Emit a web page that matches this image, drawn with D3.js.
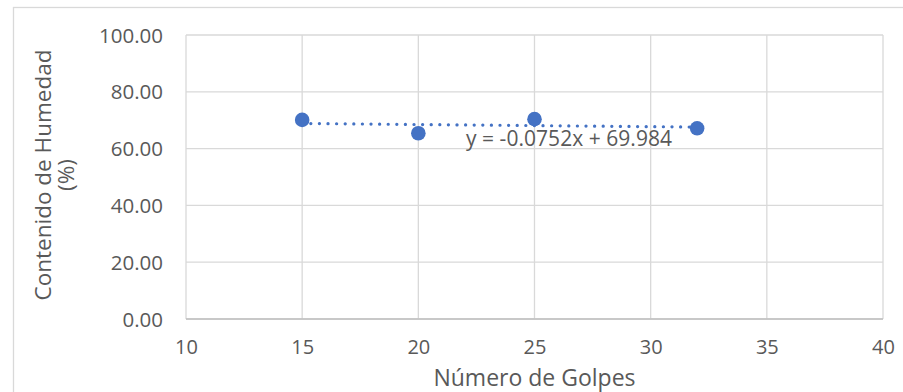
<!DOCTYPE html>
<html><head><meta charset="utf-8">
<script src="https://cdn.jsdelivr.net/npm/d3@7"></script>
<style>body{margin:0;background:#fff;} text{font-family:"Open Sans","Noto Sans",sans-serif;}</style>
</head><body>
<svg id="c" width="903" height="392"></svg>
<script>
const golpes = [15, 20, 25, 32];
const humedad = [70.10, 65.40, 70.37, 67.15];
const xTicks = [10, 15, 20, 25, 30, 35, 40];
const yTicks = [0, 20, 40, 60, 80, 100];
const slope = -0.0752, intercept = 69.984;
const eqLabel = "y = -0.0752x + 69.984";
const xTitle = "Número de Golpes";
const yTitle = ["Contenido de Humedad", "(%)"];

const svg = d3.select("#c");
const L = 186, R = 883, T = 35, B = 319;
const x = d3.scaleLinear().domain([10, 40]).range([L, R]);
const y = d3.scaleLinear().domain([0, 100]).range([B, T]);

svg.append("rect").attr("x", 13.5).attr("y", 7.5).attr("width", 920).attr("height", 420)
  .attr("fill", "#fff").attr("stroke", "#d9d9d9").attr("stroke-width", 1.3);

// grid
svg.append("g").selectAll("line").data(yTicks).join("line")
  .attr("x1", L).attr("x2", R).attr("y1", d => y(d)).attr("y2", d => y(d))
  .attr("stroke", "#d9d9d9").attr("stroke-width", 1.3);
svg.append("g").selectAll("line").data(xTicks).join("line")
  .attr("y1", T).attr("y2", B).attr("x1", d => x(d)).attr("x2", d => x(d))
  .attr("stroke", "#d9d9d9").attr("stroke-width", 1.3);
svg.append("line").attr("x1", L).attr("x2", R).attr("y1", B).attr("y2", B)
  .attr("stroke", "#bfbfbf").attr("stroke-width", 1.3);

const tf = '"Open Sans",sans-serif';
const xa = svg.append("g").attr("transform", `translate(0,${B})`)
  .call(d3.axisBottom(x).tickValues(xTicks).tickSize(0).tickPadding(21).tickFormat(d3.format("d")));
xa.select(".domain").remove();
xa.selectAll("text").attr("font-size", 20).attr("fill", "#595959").attr("dy", "0.71em").style("font-family", tf);
const ya = svg.append("g").attr("transform", `translate(${L},0)`)
  .call(d3.axisLeft(y).tickValues(yTicks).tickSize(0).tickPadding(23).tickFormat(d3.format(".2f")));
ya.select(".domain").remove();
ya.selectAll("text").attr("font-size", 20.5).attr("fill", "#595959").attr("dy", "0.35em").style("font-family", tf);

// trendline
const xr = d3.extent(golpes);
svg.append("line")
  .attr("x1", x(xr[0])).attr("y1", y(slope * xr[0] + intercept))
  .attr("x2", x(xr[1])).attr("y2", y(slope * xr[1] + intercept))
  .attr("stroke", "#4472C4").attr("stroke-width", 3.2)
  .attr("stroke-dasharray", "0.1 8.5").attr("stroke-linecap", "round");

// points
svg.append("g").selectAll("circle").data(golpes).join("circle")
  .attr("cx", d => x(d)).attr("cy", (d, i) => y(humedad[i])).attr("r", 7.3)
  .attr("fill", "#4472C4");

// equation
svg.append("text").attr("x", 466).attr("y", 146).attr("font-size", 21).attr("fill", "#595959")
  .attr("textLength", 206).text(eqLabel);

// titles
svg.append("text").attr("x", (L + R) / 2).attr("y", 386).attr("text-anchor", "middle")
  .attr("font-size", 23).attr("fill", "#595959").text(xTitle);
const yt = svg.append("text").attr("transform", `translate(51,${(T + B) / 2 - 2}) rotate(-90)`)
  .attr("text-anchor", "middle").attr("font-size", 22.5).attr("fill", "#595959");
yTitle.forEach((t, i) => yt.append("tspan").attr("x", 0).attr("dy", i === 0 ? 0 : 23).text(t));
</script>
</body></html>
